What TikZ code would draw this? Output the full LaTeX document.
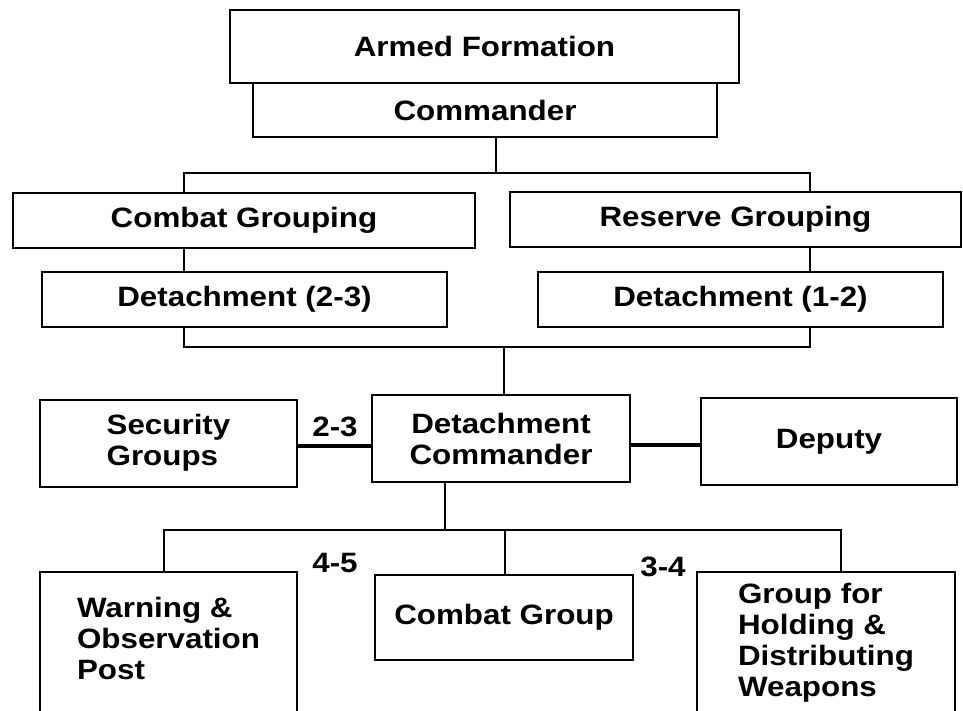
\documentclass[tikz,border=0pt]{standalone}
\usepackage{fontspec}
\setmainfont{Liberation Sans}[FakeStretch=1.12]
\begin{document}
\begin{tikzpicture}[x=1pt,y=-1pt,
  box/.style={draw=black,line width=2.6pt,rectangle,inner sep=0pt,
    font=\fontsize{28}{31}\selectfont\bfseries,align=center},
  conn/.style={draw=black,line width=1.6pt},
  thickconn/.style={draw=black,line width=3.6pt},
  lbl/.style={font=\fontsize{28}{31}\selectfont\bfseries,inner sep=0pt}]
\useasboundingbox[fill=white] (0,0) rectangle (963,711);
% boxes
\node[box,minimum width=509pt,minimum height=73pt] (af) at (484.5,46.5) {Armed Formation};
\node[box,minimum width=464pt,minimum height=54pt] (cmd) at (485,110) {Commander};
\node[box,minimum width=462pt,minimum height=55pt] (cg) at (244,220.5) {Combat Grouping};
\node[box,minimum width=451pt,minimum height=55pt] (rg) at (735.5,219.5) {Reserve Grouping};
\node[box,minimum width=405pt,minimum height=55pt] (d23) at (244.5,299.5) {Detachment (2-3)};
\node[box,minimum width=405pt,minimum height=55pt] (d12) at (740.5,299.5) {Detachment (1-2)};
\node[box,minimum width=257pt,minimum height=87pt] (sg) at (168.5,443.5) {\begin{tabular}{@{}l@{}}Security\\Groups\end{tabular}};
\node[box,minimum width=258pt,minimum height=87pt] (dc) at (501,438.5) {Detachment\\Commander};
\node[box,minimum width=256pt,minimum height=87pt] (dep) at (829,441.5) {Deputy};
\node[box,minimum width=257pt,minimum height=141pt] (wop) at (168.5,642.5) {\begin{tabular}{@{}l@{}}Warning \&\\Observation\\Post\end{tabular}};
\node[box,minimum width=258pt,minimum height=85pt] (cgp) at (504,617.5) {Combat Group};
\node[box,minimum width=258pt,minimum height=143pt] (gh) at (826,643.5) {\begin{tabular}{@{}l@{}}Group for\\Holding \&\\Distributing\\Weapons\end{tabular}};
% labels
\node[lbl] (l23) at (335,427) {2-3};
\node[lbl] (l45) at (335,563) {4-5};
\node[lbl] (l34) at (663,567) {3-4};
% connector junctions
\coordinate (b1) at (496,173);
\coordinate (b1l) at (184,173);
\coordinate (b1r) at (810,173);
\coordinate (b2) at (504,347);
\coordinate (b2l) at (184,347);
\coordinate (b2r) at (810,347);
\coordinate (h1) at (0,446);
\coordinate (h2) at (0,445);
\coordinate (b3) at (445,530);
\coordinate (b3l) at (164,530);
\coordinate (b3r) at (841,530);
\coordinate (b3m) at (505,530);
% connectors
\draw[conn] (cmd.south -| b1) -- (b1);
\draw[conn] (cg.north -| b1l) -- (b1l) -- (b1r) -- (rg.north -| b1r);
\draw[conn] (cg.south -| b1l) -- (d23.north -| b1l);
\draw[conn] (rg.south -| b1r) -- (d12.north -| b1r);
\draw[conn] (d23.south -| b2l) -- (b2l) -- (b2r) -- (d12.south -| b2r);
\draw[conn] (b2) -- (dc.north -| b2);
\draw[thickconn] (sg.east |- h1) -- (dc.west |- h1);
\draw[thickconn] (dc.east |- h2) -- (dep.west |- h2);
\draw[conn] (dc.south -| b3) -- (b3);
\draw[conn] (wop.north -| b3l) -- (b3l) -- (b3r) -- (gh.north -| b3r);
\draw[conn] (b3m) -- (cgp.north -| b3m);
\end{tikzpicture}
\end{document}
